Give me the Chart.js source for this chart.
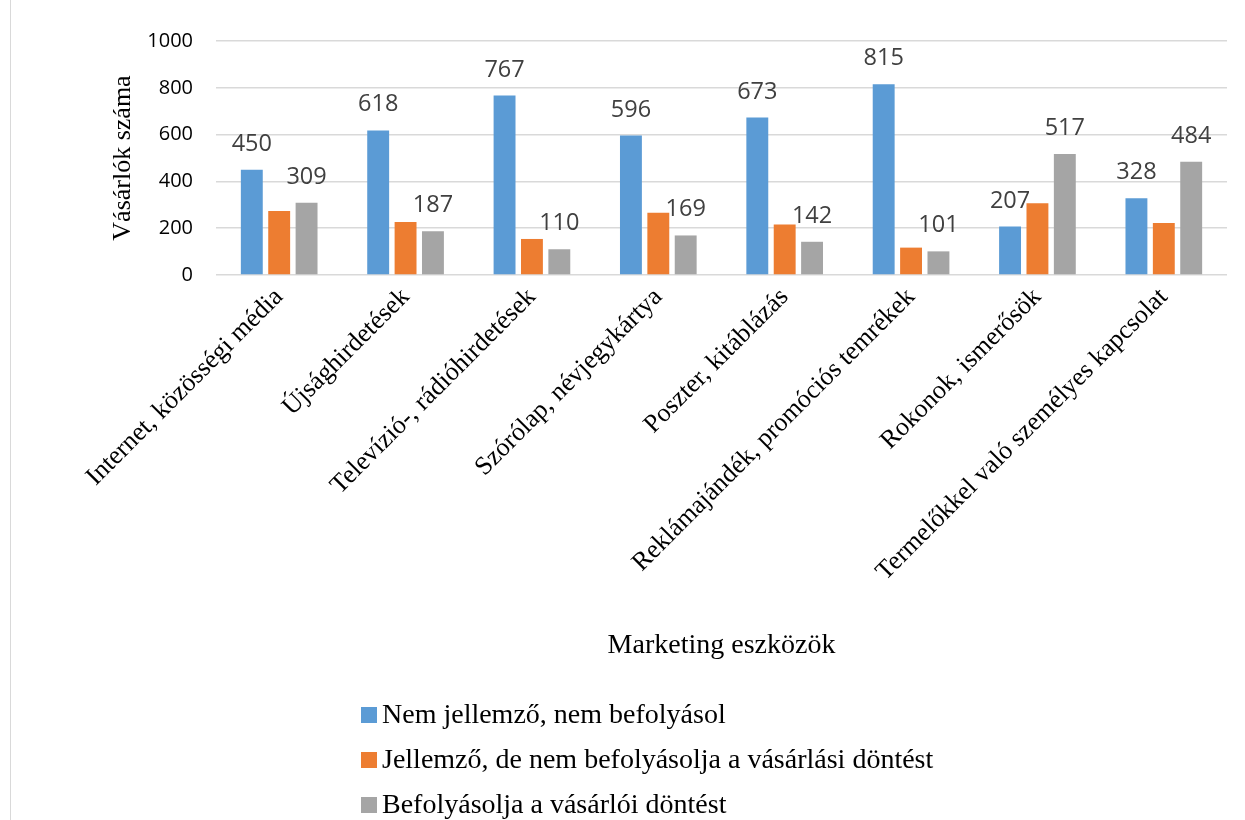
<!DOCTYPE html>
<html>
<head>
<meta charset="utf-8">
<script src="https://cdn.jsdelivr.net/npm/chart.js@4.4.1/dist/chart.umd.min.js"></script>
<style>
  html, body { margin: 0; padding: 0; background: #fff; }
  #wrap { position: relative; width: 1245px; height: 820px; overflow: hidden; }
  #frame { position: absolute; left: 10px; top: 0; width: 0; height: 820px; border-left: 1.5px solid #d9d9d9; }
  canvas { position: absolute; left: 0; top: 0; }
  #legend { position: absolute; left: 361px; top: 691px; font-family: "Liberation Serif", "Times New Roman", serif; font-size: 28px; color: #000; }
  #legend .row { line-height: 45px; height: 45px; white-space: nowrap; }
  #legend .box { display: inline-block; width: 16px; height: 16px; margin-right: 5px; vertical-align: baseline; }
</style>
</head>
<body>
<div id="wrap">
  <div id="frame"></div>
  <canvas id="c" width="1245" height="820"></canvas>
  <div id="legend"></div>
</div>
<script>
const categories = [
  "Internet, közösségi média",
  "Újsághirdetések",
  "Televízió-, rádióhirdetések",
  "Szórólap, névjegykártya",
  "Poszter, kitáblázás",
  "Reklámajándék, promóciós temrékek",
  "Rokonok, ismerősök",
  "Termelőkkel való személyes kapcsolat"
];
const seriesNames = [
  "Nem jellemző, nem befolyásol",
  "Jellemző, de nem befolyásolja a vásárlási döntést",
  "Befolyásolja a vásárlói döntést"
];
const nemJellemzo = [450, 618, 767, 596, 673, 815, 207, 328];
const jellemzo = [273, 227, 154, 266, 216, 117, 307, 222];
const befolyasolja = [309, 187, 110, 169, 142, 101, 517, 484];
const seriesColors = ["#5b9bd5", "#ed7d31", "#a5a5a5"];
const labeledSeries = [true, false, true];
const yTicks = [0, 200, 400, 600, 800, 1000];
const yTitle = "Vásárlók száma";
const xTitle = "Marketing eszközök";

const seriesValues = [nemJellemzo, jellemzo, befolyasolja];

const valueLabels = {
  id: 'valueLabels',
  afterDatasetsDraw(chart) {
    const ctx = chart.ctx;
    ctx.save();
    ctx.font = '23.5px "Open Sans", sans-serif';
    ctx.fillStyle = '#404040';
    ctx.textAlign = 'center';
    ctx.textBaseline = 'alphabetic';
    chart.data.datasets.forEach((ds, i) => {
      if (!labeledSeries[i]) return;
      const meta = chart.getDatasetMeta(i);
      meta.data.forEach((bar, j) => {
        ctx.fillText(String(ds.data[j]), bar.x, bar.y - 19);
      });
    });
    ctx.restore();
  }
};

const chart = new Chart(document.getElementById('c'), {
  type: 'bar',
  data: {
    labels: categories,
    datasets: seriesNames.map((name, i) => ({
      label: name,
      data: seriesValues[i],
      backgroundColor: seriesColors[i],
      borderWidth: 0,
      categoryPercentage: 0.65,
      barPercentage: 0.8
    }))
  },
  options: {
    responsive: false,
    animation: false,
    layout: { padding: { left: 12, right: 18, top: 41, bottom: 150 } },
    plugins: {
      legend: { display: false },
      tooltip: { enabled: false }
    },
    scales: {
      x: {
        grid: { display: false, drawTicks: false },
        border: { display: false },
        ticks: {
          autoSkip: false,
          maxRotation: 45,
          minRotation: 45,
          padding: 7,
          color: '#000',
          font: { family: '"Liberation Serif", "Times New Roman", serif', size: 26 }
        },
        title: {
          display: true,
          text: xTitle,
          color: '#000',
          padding: { top: 0, bottom: 8 },
          font: { family: '"Liberation Serif", "Times New Roman", serif', size: 28 }
        },
        afterFit(scale) { scale.height = 395; }
      },
      y: {
        min: 0,
        max: 1000,
        afterBuildTicks(scale) { scale.ticks = yTicks.map(v => ({ value: v })); },
        grid: { color: '#d9d9d9', lineWidth: 1.5, drawTicks: false },
        border: { display: false },
        ticks: {
          padding: 23,
          color: '#000',
          font: { family: '"Open Sans", sans-serif', size: 20 },
          callback: (value) => String(value)
        },
        title: {
          display: true,
          text: yTitle,
          color: '#000',
          padding: { top: 96, bottom: 0 },
          font: { family: '"Liberation Serif", "Times New Roman", serif', size: 26 }
        },
        afterFit(scale) { scale.width = 204; }
      }
    }
  },
  plugins: [valueLabels]
});

const legendEl = document.getElementById('legend');
seriesNames.forEach((name, i) => {
  const row = document.createElement('div');
  row.className = 'row';
  const box = document.createElement('span');
  box.className = 'box';
  box.style.background = seriesColors[i];
  row.appendChild(box);
  row.appendChild(document.createTextNode(name));
  legendEl.appendChild(row);
});
</script>
</body>
</html>
